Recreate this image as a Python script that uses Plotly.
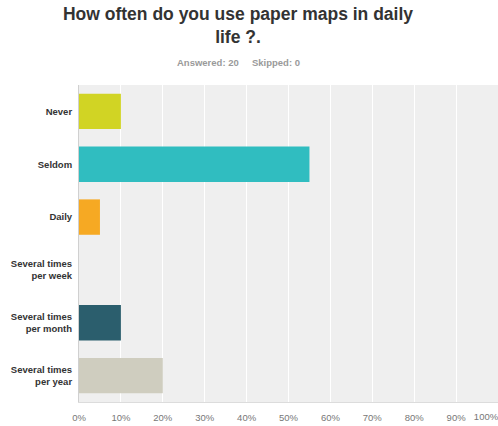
import plotly.graph_objects as go

categories = ["Never", "Seldom", "Daily", "Several times<br>per week",
              "Several times<br>per month", "Several times<br>per year"]
percents = [10, 55, 5, 0, 10, 20]
colors = ["#d1d424", "#30bdc0", "#f6a923", "#9b59b6", "#2b5e6d", "#cfcdbf"]
x_ticks = [0, 10, 20, 30, 40, 50, 60, 70, 80, 90, 100]
x_tick_labels = [f"{v}%" for v in x_ticks]

W, H = 498, 426
L, T, B = 79, 85, 24
plot_h = H - T - B

fig = go.Figure(go.Bar(
    x=percents,
    y=categories,
    orientation="h",
    marker=dict(color=colors, line=dict(width=0)),
    hoverinfo="x+y",
))
# empty trace so the secondary label axis gets drawn
fig.add_trace(go.Scatter(x=[], y=[], xaxis="x2", yaxis="y", hoverinfo="skip"))

fig.update_layout(
    width=W,
    height=H,
    margin=dict(l=L, r=0, t=T, b=B, autoexpand=False),
    paper_bgcolor="white",
    plot_bgcolor="#efefef",
    bargap=0.33,
    showlegend=False,
    font=dict(family="Liberation Sans, Arial, sans-serif"),
    title=dict(
        text="<b>How often do you use paper maps in daily<br>life ?.</b>",
        x=238 / W, xanchor="center", xref="container",
        y=1 - 20 / H, yanchor="middle", yref="container",
        font=dict(size=17.5, color="#333333"),
    ),
    annotations=[
        dict(text="<b>Answered: 20&nbsp;&nbsp;&nbsp;&nbsp;&nbsp;Skipped: 0</b>",
             x=(238 - L) / (W - L), y=1 + (T - 62) / plot_h,
             xref="paper", yref="paper",
             xanchor="center", yanchor="middle", showarrow=False,
             font=dict(size=9.5, color="#9a9a9a")),
    ],
)

tick_style = dict(
    ticks="",
    ticklabelstandoff=7,
    tickfont=dict(size=9.5, color="#777777"),
    fixedrange=True,
)

# main axis: gridlines and labels 0%..90%
fig.update_layout(xaxis=dict(
    range=[0, 100],
    tickvals=x_ticks,
    ticktext=x_tick_labels[:-1] + [""],
    showgrid=True,
    gridcolor="white",
    gridwidth=1,
    zeroline=False,
    showline=True,
    linecolor="#dcdcdc",
    **tick_style,
))
# the 100% label is nudged left so it stays inside the page
fig.update_layout(xaxis2=dict(
    overlaying="x",
    range=[0, 100],
    anchor="y",
    side="bottom",
    tickvals=x_ticks[-1:],
    ticktext=x_tick_labels[-1:],
    ticklabelshift=-12,
    ticklabeloverflow="allow",
    showgrid=False,
    zeroline=False,
    showline=False,
    **tick_style,
))
fig.update_yaxes(
    autorange="reversed",
    showgrid=False,
    showline=True,
    linecolor="#d0d0d0",
    ticks="",
    ticklabelstandoff=4,
    tickfont=dict(size=9.5, color="#333333", weight="bold"),
    fixedrange=True,
)

fig.write_html("out.html")
